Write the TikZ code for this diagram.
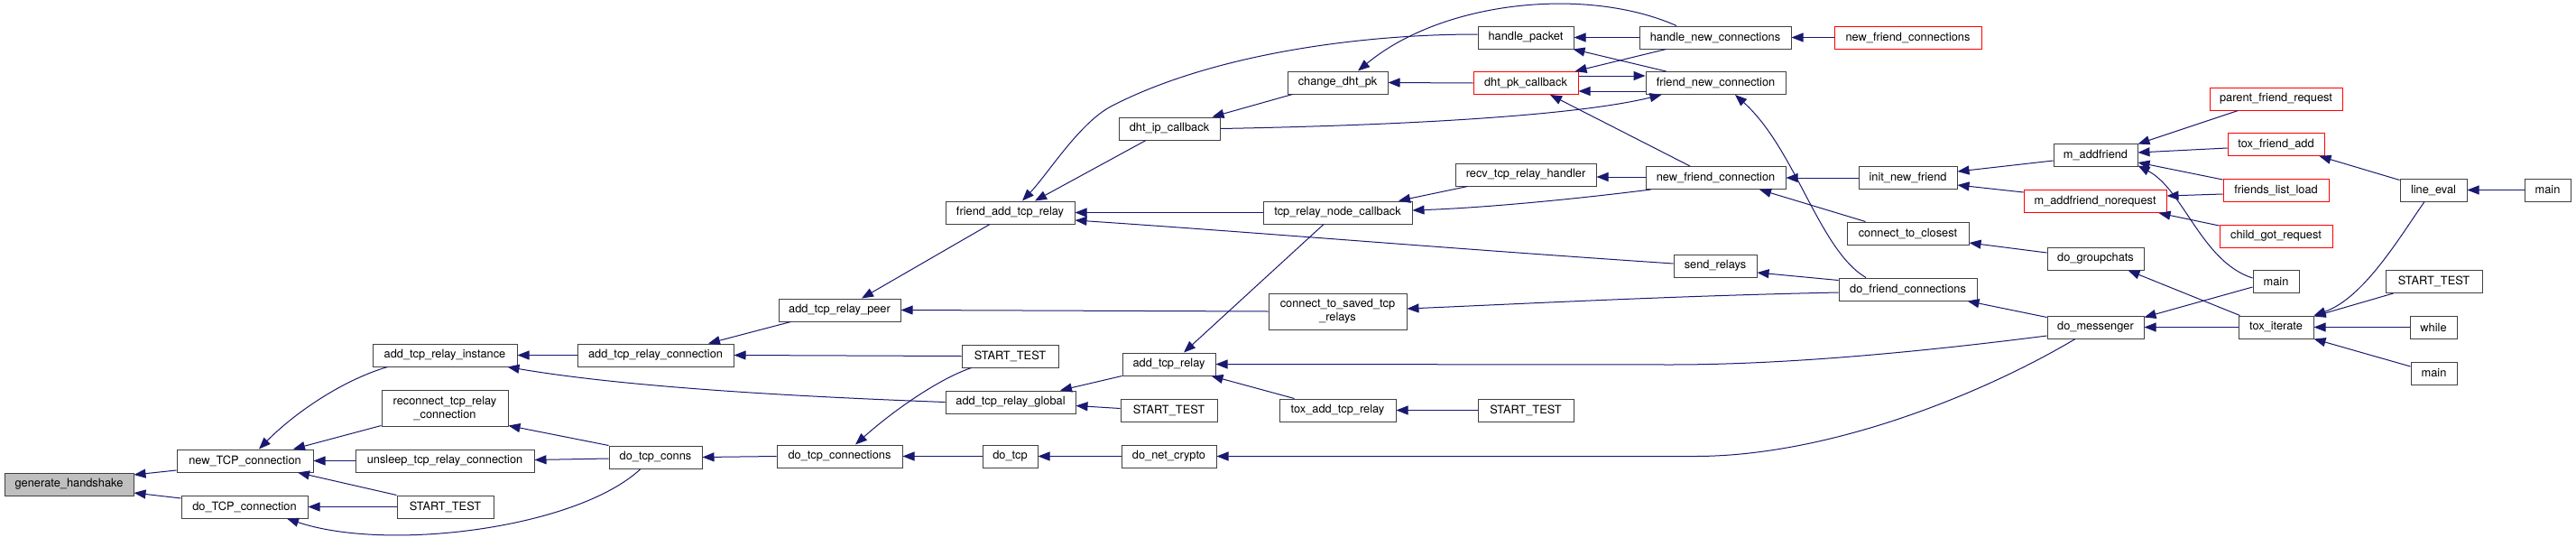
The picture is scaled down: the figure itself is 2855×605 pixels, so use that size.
\documentclass[tikz,border=0pt]{standalone}
\usepackage{fontspec}
\setmainfont{TeX Gyre Heros}
\usetikzlibrary{arrows.meta}
\definecolor{edgeblue}{HTML}{191970}
\definecolor{boxline}{HTML}{404040}
\definecolor{handfill}{HTML}{BFBFBF}
\definecolor{redline}{HTML}{FF0000}
\begin{document}
\begin{tikzpicture}[x=1pt,y=-1pt,
 fnbox/.style={draw=boxline,line width=1pt,fill=white,inner sep=0pt,minimum height=25pt,font=\fontsize{12.8pt}{15pt}\selectfont},
 redbox/.style={fnbox,draw=redline},
 twoline/.style={minimum height=40pt,align=center},
 conn/.style={draw=edgeblue,line width=1pt,-{Triangle[length=13pt,width=10pt]}}]
\useasboundingbox[fill=white] (0,0) rectangle (2855,605);
% nodes
\node[fnbox,fill=handfill,minimum width=143pt] (gh) at (76.5,536.5) {generate\_handshake};
\node[fnbox,minimum width=151pt] (ntc) at (271.5,510.5) {new\_TCP\_connection};
\node[fnbox,minimum width=140pt] (dtc) at (271,561.5) {do\_TCP\_connection};
\node[fnbox,minimum width=160pt] (atri) at (493,393.5) {add\_tcp\_relay\_instance};
\node[fnbox,twoline,minimum width=140pt] (rtrc) at (493,452) {reconnect\_tcp\_relay\\\_connection};
\node[fnbox,minimum width=198pt] (utrc) at (493,510.5) {unsleep\_tcp\_relay\_connection};
\node[fnbox,minimum width=107pt] (st1) at (493.5,561.5) {START\_TEST};
\node[fnbox,minimum width=173pt] (atrc) at (726.5,393.5) {add\_tcp\_relay\_connection};
\node[fnbox,minimum width=103pt] (dtcc) at (726.5,506.5) {do\_tcp\_conns};
\node[fnbox,minimum width=135pt] (atrp) at (930.5,343.5) {add\_tcp\_relay\_peer};
\node[fnbox,minimum width=139pt] (dtcs) at (930.5,505.5) {do\_tcp\_connections};
\node[fnbox,minimum width=143pt] (fatr) at (1119.5,235.5) {friend\_add\_tcp\_relay};
\node[fnbox,minimum width=107pt] (st2) at (1119.5,394.5) {START\_TEST};
\node[fnbox,minimum width=144pt] (atrg) at (1120,445.5) {add\_tcp\_relay\_global};
\node[fnbox,minimum width=61pt] (dtcp) at (1119.5,505.5) {do\_tcp};
\node[fnbox,minimum width=112pt] (dipc) at (1296,142.5) {dht\_ip\_callback};
\node[fnbox,minimum width=103pt] (atr) at (1295.5,403.5) {add\_tcp\_relay};
\node[fnbox,minimum width=107pt] (st3) at (1295.5,454.5) {START\_TEST};
\node[fnbox,minimum width=105pt] (dnc) at (1295.5,505.5) {do\_net\_crypto};
\node[fnbox,minimum width=111pt] (cdp) at (1482.5,91.5) {change\_dht\_pk};
\node[fnbox,minimum width=165pt] (trnc) at (1482.5,235.5) {tcp\_relay\_node\_callback};
\node[fnbox,twoline,minimum width=153pt] (ctstr) at (1482.5,345) {connect\_to\_saved\_tcp\\\_relays};
\node[fnbox,minimum width=129pt] (tatr) at (1482.5,454.5) {tox\_add\_tcp\_relay};
\node[fnbox,minimum width=106pt] (hp) at (1691,41.5) {handle\_packet};
\node[redbox,minimum width=116pt] (dpc) at (1691,92) {dht\_pk\_callback};
\node[fnbox,minimum width=156pt] (rtrh) at (1691,193.5) {recv\_tcp\_relay\_handler};
\node[fnbox,minimum width=106pt] (st4) at (1691,454.5) {START\_TEST};
\node[fnbox,minimum width=168pt] (hnc) at (1901,41.5) {handle\_new\_connections};
\node[fnbox,minimum width=155pt] (fnc) at (1901.5,92) {friend\_new\_connection};
\node[fnbox,minimum width=155pt] (nfc) at (1901.5,197) {new\_friend\_connection};
\node[fnbox,minimum width=92pt] (sr) at (1901,294.5) {send\_relays};
\node[redbox,minimum width=163pt] (nfcs) at (2114.5,41.5) {new\_friend\_connections};
\node[fnbox,minimum width=109pt] (inf) at (2114.5,197) {init\_new\_friend};
\node[fnbox,minimum width=135pt] (ctc) at (2114.5,258.5) {connect\_to\_closest};
\node[fnbox,minimum width=153pt] (dfc) at (2114.5,320.5) {do\_friend\_connections};
\node[fnbox,minimum width=93pt] (maf) at (2322.5,171.5) {m\_addfriend};
\node[redbox,minimum width=158pt] (mafn) at (2322,223) {m\_addfriend\_norequest};
\node[fnbox,minimum width=107pt] (dgc) at (2322.5,286.5) {do\_groupchats};
\node[fnbox,minimum width=107pt] (dm) at (2322.5,362.5) {do\_messenger};
\node[redbox,minimum width=147pt] (pfr) at (2522.5,109.5) {parent\_friend\_request};
\node[redbox,minimum width=107pt] (tfa) at (2522.5,160) {tox\_friend\_add};
\node[redbox,minimum width=117pt] (fll) at (2522.5,210.5) {friends\_list\_load};
\node[redbox,minimum width=125pt] (cgr) at (2522.5,261.5) {child\_got\_request};
\node[fnbox,minimum width=51pt] (main2) at (2522.5,312) {main};
\node[fnbox,minimum width=83pt] (ti) at (2522.5,362.5) {tox\_iterate};
\node[fnbox,minimum width=74pt] (le) at (2697,210.5) {line\_eval};
\node[fnbox,minimum width=107pt] (st5) at (2697.5,312) {START\_TEST};
\node[fnbox,minimum width=52pt] (wh) at (2697,362.5) {while};
\node[fnbox,minimum width=51pt] (main3) at (2697.5,413.5) {main};
\node[fnbox,minimum width=51pt] (main1) at (2823.5,210.5) {main};
% connectors (caller -> callee)
\draw[conn] ([yshift=-10.5pt]ntc.west) -- ([yshift=10.5pt]gh.east);
\draw[conn] ([yshift=9.5pt]dtc.west) -- ([yshift=-9.5pt]gh.east);
\draw[conn] ([xshift=17pt]atri.south west) .. controls (380,421) and (327,457) .. ([xshift=15.5pt]ntc.north);
\draw[conn] ([yshift=1pt]rtrc.south west) -- ([xshift=53.5pt]ntc.north);
\draw[conn] (utrc.west) -- (ntc.east);
\draw[conn] (st1.north west) -- ([xshift=58.5pt]ntc.south);
\draw[conn] (st1.west) -- (dtc.east);
\draw[conn] ([xshift=-16.5pt]dtcc.south) .. controls (640,585) and (430,612) .. ([xshift=47pt]dtc.south);
\draw[conn] (atrc.west) -- (atri.east);
\draw[conn] (atrg.west) .. controls (900,440) and (700,430) .. ([xshift=-11pt]atri.south east);
\draw[conn] (dtcc.north west) -- ([yshift=1pt]rtrc.south east);
\draw[conn] ([yshift=-1.5pt]dtcc.west) -- ([yshift=1pt]utrc.east);
\draw[conn] (dtcs.west) -- (dtcc.east);
\draw[conn] ([xshift=14pt]atrp.south west) -- ([xshift=58.5pt]atrc.north);
\draw[conn] (st2.west) -- (atrc.east);
\draw[conn] ([xshift=11pt]st2.south west) .. controls (1040,420) and (990,455) .. ([xshift=17.5pt]dtcs.north);
\draw[conn] (dtcp.west) -- (dtcs.east);
\draw[conn] (dnc.west) -- (dtcp.east);
\draw[conn] ([xshift=-22.5pt]fatr.south) -- ([xshift=24.5pt]atrp.north);
\draw[conn] (ctstr.west) -- (atrp.east);
\draw[conn] (atr.south west) -- ([xshift=55pt]atrg.north);
\draw[conn] ([yshift=2pt]st3.west) -- ([yshift=-4pt]atrg.east);
\draw[conn] ([yshift=3.5pt]hp.west) .. controls (1500,38) and (1340,62) .. (1233,117) .. controls (1197,135) and (1162,192) .. ([xshift=13.5pt]fatr.north);
\draw[conn] ([xshift=-26pt]dipc.south) -- ([xshift=27.5pt]fatr.north);
\draw[conn] (trnc.west) -- (fatr.east);
\draw[conn] ([yshift=2.5pt]sr.west) .. controls (1600,275) and (1400,258) .. ([yshift=-8.5pt]fatr.east);
\draw[conn] ([xshift=-15.5pt]trnc.south) -- ([xshift=16.5pt]atr.north);
\draw[conn] ([yshift=-9.5pt]dm.west) .. controls (2080,396) and (1950,404) .. (1850,404) -- (atr.east);
\draw[conn] ([xshift=17pt]tatr.north west) -- ([xshift=-5pt]atr.south east);
\draw[conn] (st4.west) -- (tatr.east);
\draw[conn] ([xshift=-22.5pt]dm.south) .. controls (2200,435) and (2030,505) .. (1880,505.5) -- (dnc.east);
\draw[conn] ([xshift=6pt]cdp.south west) -- ([xshift=-9pt]dipc.north east);
\draw[conn] (dipc.east) .. controls (1600,138) and (1760,125) .. ([xshift=18pt]fnc.south west);
\draw[conn] ([xshift=-43pt]hnc.north) .. controls (1760,-15) and (1600,0) .. ([xshift=22.5pt]cdp.north);
\draw[conn] (dpc.west) -- (cdp.east);
\draw[conn] (hnc.west) -- (hp.east);
\draw[conn] ([xshift=23pt]fnc.north west) -- ([xshift=-1pt]hp.south east);
\draw[conn] ([xshift=30pt]hnc.south west) -- ([xshift=-4pt]dpc.north east);
\draw[conn] ([yshift=8pt]dpc.east) -- ([yshift=8pt]fnc.west);
\draw[conn] ([yshift=-9pt]fnc.west) -- ([yshift=-9pt]dpc.east);
\draw[conn] ([xshift=-28.5pt]nfc.north) -- ([xshift=27pt]dpc.south);
\draw[conn] (nfcs.west) -- (hnc.east);
\draw[conn] ([xshift=-46.5pt]dfc.north) .. controls (2016,277) and (1990,165) .. ([xshift=21.5pt]fnc.south);
\draw[conn] ([xshift=14pt]rtrh.south west) -- ([xshift=67.5pt]trnc.north);
\draw[conn] ([xshift=6pt]nfc.south west) .. controls (1750,220) and (1650,230) .. ([yshift=2.5pt]trnc.east);
\draw[conn] ([yshift=1pt]nfc.west) -- ([yshift=-2.5pt]rtrh.east);
\draw[conn] (inf.west) -- (nfc.east);
\draw[conn] ([xshift=21pt]ctc.north west) -- ([xshift=48.5pt]nfc.south);
\draw[conn] ([yshift=-3pt]dfc.north west) -- ([yshift=-7.5pt]sr.east);
\draw[conn] ([yshift=-3.5pt]dfc.west) .. controls (1850,328) and (1700,336) .. ([yshift=3pt]ctstr.east);
\draw[conn] ([yshift=-2pt]dm.north west) -- ([xshift=-11pt]dfc.south east);
\draw[conn] ([yshift=-6.5pt]maf.west) -- ([yshift=7pt]inf.east);
\draw[conn] ([yshift=10pt]mafn.west) -- ([yshift=-8pt]inf.east);
\draw[conn] ([yshift=6.5pt]dgc.west) -- ([yshift=-10.5pt]ctc.east);
\draw[conn] ([xshift=2pt]ti.north west) -- ([xshift=-18pt]dgc.south east);
\draw[conn] (ti.west) -- (dm.east);
\draw[conn] ([yshift=-6pt]main2.west) -- ([yshift=-2pt]dm.north east);
\draw[conn] ([xshift=32pt]pfr.south west) -- ([yshift=-1pt]maf.north east);
\draw[conn] ([yshift=-4pt]tfa.west) -- ([yshift=2.5pt]maf.east);
\draw[conn] ([yshift=11.5pt]fll.west) -- ([yshift=-8.5pt]maf.east);
\draw[conn] ([yshift=4pt]main2.west) .. controls (2440,290) and (2420,210) .. ([yshift=1pt]maf.south east);
\draw[conn] ([yshift=-4.5pt]fll.west) -- ([yshift=6pt]mafn.east);
\draw[conn] ([yshift=11.5pt]cgr.west) -- ([xshift=-9pt]mafn.south east);
\draw[conn] ([yshift=-2pt]le.north west) -- ([xshift=-6pt]tfa.south east);
\draw[conn] (main1.west) -- (le.east);
\draw[conn] ([xshift=-10pt]le.south) .. controls (2660,262) and (2620,330) .. (ti.north east);
\draw[conn] ([xshift=9pt]st5.south west) -- ([yshift=-1pt]ti.north east);
\draw[conn] (wh.west) -- (ti.east);
\draw[conn] ([yshift=7.5pt]main3.west) -- (ti.south east);
\end{tikzpicture}
\end{document}
